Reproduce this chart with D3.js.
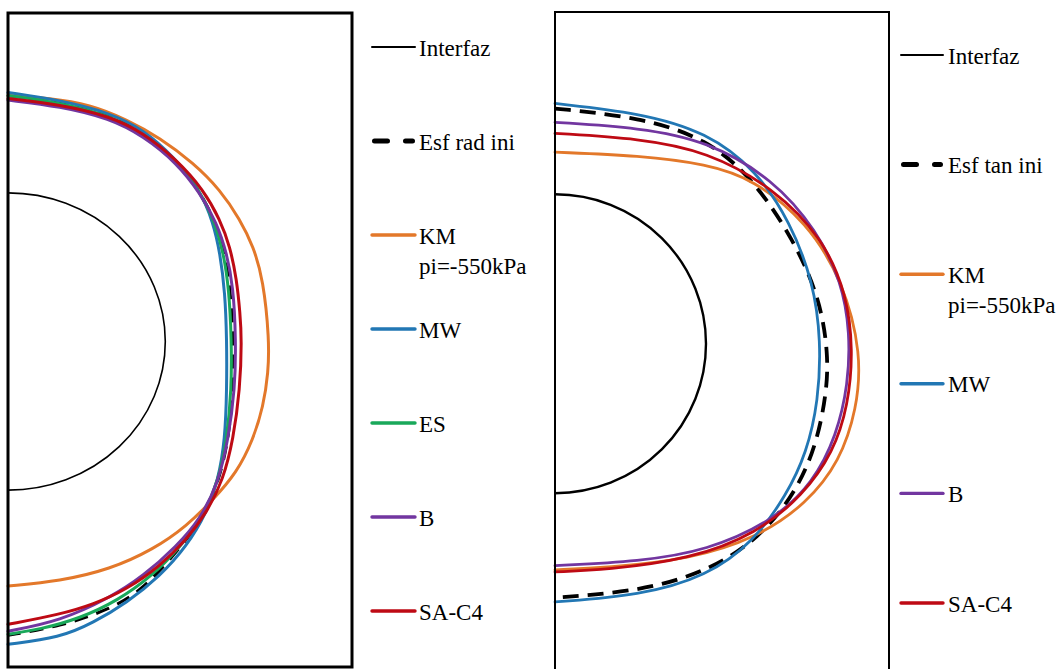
<!DOCTYPE html>
<html>
<head>
<meta charset="utf-8">
<script src="https://cdn.jsdelivr.net/npm/d3@7"></script>
<style>
  body { margin: 0; background: #fff; }
</style>
</head>
<body>
<svg id="chart" width="1062" height="669"></svg>
<script>
// radio de la interfaz (unidad)
const interfazR = 1;

// ---- panel izquierdo : esfuerzo radial  [x, y] ----
const radIni = [[0,1.654],[0.331,1.614],[0.648,1.523],[0.860,1.402],[1.062,1.224],[1.221,1.015],[1.319,0.798],
                [1.376,0.596],[1.415,0.350],[1.433,0.013],[1.432,-0.323],[1.402,-0.659],[1.341,-0.941],[1.240,-1.184],
                [1.093,-1.392],[0.860,-1.668],[0.648,-1.803],[0.331,-1.917],[0,-1.977]];
const radKM  = [[0,1.654],[0.267,1.637],[0.521,1.594],[0.755,1.493],[0.966,1.370],[1.178,1.202],[1.348,1.022],
                [1.475,0.821],[1.559,0.641],[1.623,0.417],[1.661,0.013],[1.655,-0.211],[1.623,-0.436],[1.559,-0.659],
                [1.454,-0.883],[1.305,-1.063],[1.136,-1.242],[0.924,-1.399],[0.648,-1.533],[0.331,-1.612],[0,-1.645]];
const radMW  = [[0,1.675],[0.331,1.623],[0.648,1.538],[0.860,1.426],[1.051,1.246],[1.221,1.022],[1.305,0.798],
                [1.348,0.596],[1.380,0.327],[1.391,0.013],[1.391,-0.323],[1.380,-0.659],[1.337,-0.928],[1.263,-1.152],
                [1.136,-1.377],[0.966,-1.579],[0.755,-1.758],[0.542,-1.892],[0.331,-1.993],[0,-2.037]];
const radES  = [[0,1.654],[0.331,1.607],[0.648,1.520],[0.860,1.399],[1.062,1.224],[1.221,1.012],[1.316,0.798],
                [1.370,0.596],[1.405,0.350],[1.421,0.013],[1.421,-0.323],[1.392,-0.659],[1.337,-0.941],[1.240,-1.177],
                [1.100,-1.377],[0.915,-1.579],[0.699,-1.742],[0.458,-1.863],[0.203,-1.937],[0,-1.970]];
const radB   = [[0,1.624],[0.331,1.582],[0.648,1.500],[0.860,1.382],[1.072,1.202],[1.221,0.999],[1.327,0.798],
                [1.390,0.596],[1.432,0.372],[1.449,0.013],[1.443,-0.323],[1.400,-0.659],[1.337,-0.951],[1.221,-1.197],
                [1.072,-1.377],[0.860,-1.579],[0.648,-1.724],[0.331,-1.881],[0,-1.949]];
const radSA  = [[0,1.634],[0.331,1.594],[0.648,1.516],[0.860,1.404],[1.072,1.224],[1.242,1.022],[1.348,0.820],
                [1.411,0.641],[1.454,0.417],[1.475,0.193],[1.486,0.013],[1.475,-0.323],[1.432,-0.659],[1.369,-0.928],
                [1.263,-1.152],[1.136,-1.332],[0.966,-1.511],[0.755,-1.668],[0.542,-1.769],[0.331,-1.836],[0,-1.903]];

// ---- panel derecho : esfuerzo tangencial  [x, y] ----
const tanIni = [[0,1.574],[0.563,1.516],[1.005,1.373],[1.313,1.102],[1.578,0.702],[1.755,0.302],[1.810,-0.070],
                [1.799,-0.327],[1.733,-0.670],[1.601,-0.985],[1.358,-1.299],[1.005,-1.527],[0.563,-1.656],[0,-1.699]];
const tanKM  = [[0,1.282],[0.563,1.259],[1.005,1.202],[1.313,1.102],[1.667,0.816],[1.909,0.416],[2.031,-0.070],
                [1.998,-0.442],[1.887,-0.785],[1.667,-1.070],[1.336,-1.299],[0.894,-1.442],[0.342,-1.499],[0,-1.513]];
const tanMW  = [[0,1.608],[0.563,1.545],[1.005,1.416],[1.336,1.159],[1.556,0.816],[1.711,0.416],[1.762,0.015],
                [1.744,-0.385],[1.667,-0.727],[1.534,-1.013],[1.313,-1.327],[1.005,-1.556],[0.563,-1.685],[0,-1.728]];
const tanB   = [[0,1.482],[0.563,1.445],[1.005,1.359],[1.446,1.102],[1.733,0.759],[1.899,0.416],[1.954,0.073],
                [1.942,-0.270],[1.865,-0.613],[1.711,-0.928],[1.446,-1.185],[1.005,-1.385],[0.563,-1.456],[0,-1.485]];
const tanSA  = [[0,1.408],[0.563,1.373],[1.005,1.288],[1.446,1.045],[1.777,0.702],[1.932,0.330],[1.975,-0.042],
                [1.942,-0.413],[1.843,-0.727],[1.644,-1.013],[1.336,-1.270],[0.894,-1.442],[0.342,-1.513],[0,-1.527]];

const leftLabels  = ["Interfaz", "Esf rad ini", "KM\npi=-550kPa", "MW", "ES", "B", "SA-C4"];
const rightLabels = ["Interfaz", "Esf tan ini", "KM\npi=-550kPa", "MW", "B", "SA-C4"];

const colors = { ini: "#000", KM: "#E3782A", MW: "#2277B4", ES: "#19A85A", B: "#7236A0", SA: "#BE0A14" };
const fontFamily = "'Liberation Serif', 'Times New Roman', Times, 'DejaVu Serif', serif";

const svg = d3.select("#chart");

const panels = [
  {
    frame: { x0: 8, y0: 13, x1: 352, y1: 667 }, xMax: 2.187, yDom: [-2.19, 2.21],
    frameW: 3, interfazW: 1.6, lineW: 3,
    series: [
      { data: radIni, color: colors.ini, dash: "14,9", w: 3 },
      { data: radKM,  color: colors.KM },
      { data: radMW,  color: colors.MW },
      { data: radES,  color: colors.ES },
      { data: radB,   color: colors.B },
      { data: radSA,  color: colors.SA }
    ],
    labels: leftLabels, legendKeys: [null, "ini", "KM", "MW", "ES", "B", "SA"],
    legend: { x0: 372, x1: 415, tx: 419, y0: 47, step: 94 }
  },
  {
    frame: { x0: 555, y0: 12, x1: 889, y1: 675.5 }, xMax: 2.212, yDom: [-2.22, 2.22],
    frameW: 2, interfazW: 2.4, lineW: 2.8,
    series: [
      { data: tanIni, color: colors.ini, dash: "16,9", w: 3.8 },
      { data: tanKM,  color: colors.KM },
      { data: tanMW,  color: colors.MW },
      { data: tanB,   color: colors.B },
      { data: tanSA,  color: colors.SA }
    ],
    labels: rightLabels, legendKeys: [null, "ini", "KM", "MW", "B", "SA"],
    legend: { x0: 901, x1: 943, tx: 948, y0: 55, step: 109.6 }
  }
];

panels.forEach(p => {
  const f = p.frame;
  const x = d3.scaleLinear().domain([0, p.xMax]).range([f.x0, f.x1]);
  const y = d3.scaleLinear().domain(p.yDom).range([f.y1, f.y0]);
  const g = svg.append("g");

  const line = d3.line()
      .x(d => x(d[0]))
      .y(d => y(d[1]))
      .curve(d3.curveBasis);

  // interfaz: semicirculo de radio 1 (elipse en pantalla)
  const rx = x(interfazR) - x(0), ry = y(0) - y(interfazR);
  g.append("path")
      .attr("d", `M${x(0)},${y(interfazR)} A${rx},${ry} 0 0 1 ${x(0)},${y(-interfazR)}`)
      .attr("fill", "none")
      .attr("stroke", "#000")
      .attr("stroke-width", p.interfazW);

  g.selectAll("path.serie")
    .data(p.series)
    .join("path")
      .attr("class", "serie")
      .attr("d", d => line(d.data))
      .attr("fill", "none")
      .attr("stroke", d => d.color)
      .attr("stroke-width", d => d.w || p.lineW)
      .attr("stroke-dasharray", d => d.dash || null)
      .attr("stroke-linecap", d => d.dash ? "butt" : "round");

  // marco
  g.append("rect")
      .attr("x", f.x0).attr("y", f.y0)
      .attr("width", f.x1 - f.x0).attr("height", f.y1 - f.y0)
      .attr("fill", "none")
      .attr("stroke", "#000")
      .attr("stroke-width", p.frameW);

  // leyenda
  const L = p.legend;
  const items = g.append("g").selectAll("g")
    .data(p.labels)
    .join("g")
      .attr("transform", (d, i) => `translate(0,${L.y0 + i * L.step})`);

  items.append("line")
      .attr("x1", (d, i) => p.legendKeys[i] === "ini" ? L.x0 + 2.5 : L.x0)
      .attr("x2", (d, i) => p.legendKeys[i] === "ini" ? L.x1 - 2.5 : L.x1)
      .attr("stroke", (d, i) => p.legendKeys[i] ? colors[p.legendKeys[i]] : "#000")
      .attr("stroke-width", (d, i) => p.legendKeys[i] === "ini" ? 5 : (p.legendKeys[i] ? 3.4 : 2))
      .attr("stroke-dasharray", (d, i) => p.legendKeys[i] === "ini" ? "13,18" : null)
      .attr("stroke-linecap", "round");

  items.append("text")
      .attr("x", L.tx)
      .attr("y", 8.5)
      .attr("font-family", fontFamily)
      .attr("font-size", 23)
      .attr("fill", "#000")
      .selectAll("tspan")
      .data(d => d.split("\n"))
      .join("tspan")
        .attr("x", L.tx)
        .attr("dy", (d, i) => i ? 30 : 0)
        .text(d => d);
});
</script>
</body>
</html>
